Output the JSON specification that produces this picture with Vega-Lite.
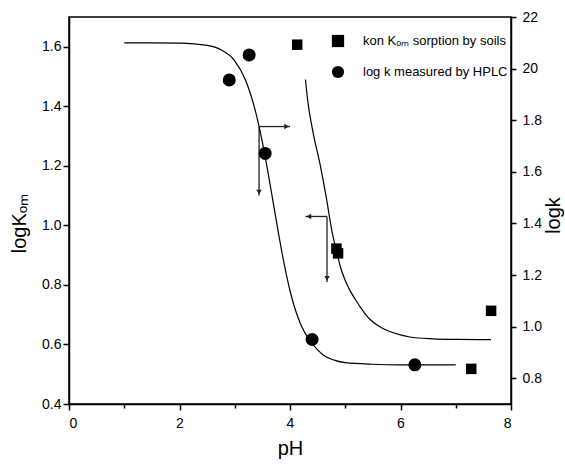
{
  "$schema": "https://vega.github.io/schema/vega-lite/v6.json",
  "width": 442,
  "height": 387,
  "autosize": "none",
  "padding": {"left": 69, "top": 17, "right": 54, "bottom": 64},
  "background": "white",
  "config": {
    "view": {"stroke": "black", "strokeWidth": 1.5},
    "axis": {
      "grid": false,
      "domainColor": "black",
      "domainWidth": 1.5,
      "tickColor": "black",
      "tickWidth": 1.5,
      "labelColor": "black",
      "labelFont": "Liberation Sans",
      "labelFontSize": 14,
      "titleFont": "Liberation Sans",
      "titleFontWeight": "normal",
      "titleColor": "black",
      "titleFontSize": 20
    },
    "legend": {
      "labelFont": "Liberation Sans",
      "labelFontSize": 13,
      "labelColor": "black",
      "labelLimit": 400
    }
  },
  "datasets": {
    "soil": [
      {"pH": 4.13, "v": 1.607, "series": "kon Kₒₘ sorption by soils"},
      {"pH": 4.84, "v": 0.922, "series": "kon Kₒₘ sorption by soils"},
      {"pH": 4.87, "v": 0.906, "series": "kon Kₒₘ sorption by soils"},
      {"pH": 7.28, "v": 0.518, "series": "kon Kₒₘ sorption by soils"},
      {"pH": 7.64, "v": 0.713, "series": "kon Kₒₘ sorption by soils"}
    ],
    "hplc": [
      {"pH": 2.90, "v": 1.956, "series": "log k measured by HPLC"},
      {"pH": 3.26, "v": 2.053, "series": "log k measured by HPLC"},
      {"pH": 3.55, "v": 1.671, "series": "log k measured by HPLC"},
      {"pH": 4.40, "v": 0.950, "series": "log k measured by HPLC"},
      {"pH": 6.26, "v": 0.852, "series": "log k measured by HPLC"}
    ],
    "curveKom": [
      {"pH": 4.28, "v": 1.49},
      {"pH": 4.32, "v": 1.42},
      {"pH": 4.42, "v": 1.31},
      {"pH": 4.55, "v": 1.20},
      {"pH": 4.66, "v": 1.09},
      {"pH": 4.76, "v": 0.98},
      {"pH": 4.86, "v": 0.90},
      {"pH": 4.91, "v": 0.862},
      {"pH": 5.00, "v": 0.815},
      {"pH": 5.09, "v": 0.780},
      {"pH": 5.18, "v": 0.752},
      {"pH": 5.27, "v": 0.726},
      {"pH": 5.36, "v": 0.703},
      {"pH": 5.45, "v": 0.684},
      {"pH": 5.64, "v": 0.658},
      {"pH": 5.76, "v": 0.647},
      {"pH": 6.00, "v": 0.632},
      {"pH": 6.17, "v": 0.625},
      {"pH": 6.59, "v": 0.619},
      {"pH": 7.00, "v": 0.617},
      {"pH": 7.64, "v": 0.616}
    ],
    "curveK": [
      {"pH": 1.0, "v": 2.100},
      {"pH": 1.5, "v": 2.100},
      {"pH": 2.0, "v": 2.099},
      {"pH": 2.5, "v": 2.090},
      {"pH": 2.75, "v": 2.073},
      {"pH": 3.0, "v": 2.030},
      {"pH": 3.2, "v": 1.953},
      {"pH": 3.4, "v": 1.813},
      {"pH": 3.5, "v": 1.715},
      {"pH": 3.6, "v": 1.600},
      {"pH": 3.7, "v": 1.476},
      {"pH": 3.8, "v": 1.352},
      {"pH": 3.9, "v": 1.237},
      {"pH": 4.0, "v": 1.139},
      {"pH": 4.2, "v": 1.005},
      {"pH": 4.4, "v": 0.935},
      {"pH": 4.6, "v": 0.890},
      {"pH": 4.8, "v": 0.870},
      {"pH": 5.0, "v": 0.860},
      {"pH": 5.5, "v": 0.854},
      {"pH": 6.0, "v": 0.852},
      {"pH": 7.0, "v": 0.852}
    ],
    "arrows": [
      {"pH": 3.44, "pH2": 3.44, "v": 1.330, "v2": 1.100},
      {"pH": 3.44, "pH2": 4.00, "v": 1.332, "v2": 1.332},
      {"pH": 4.67, "pH2": 4.28, "v": 1.030, "v2": 1.030},
      {"pH": 4.67, "pH2": 4.67, "v": 1.030, "v2": 0.810}
    ],
    "heads": [
      {"pH": 3.44, "v": 1.112, "dir": "triangle-down"},
      {"pH": 3.94, "v": 1.332, "dir": "triangle-right"},
      {"pH": 4.34, "v": 1.030, "dir": "triangle-left"},
      {"pH": 4.67, "v": 0.822, "dir": "triangle-down"}
    ]
  },
  "layer": [
    {
      "layer": [
        {
          "data": {"name": "curveKom"},
          "mark": {"type": "line", "color": "black", "strokeWidth": 1.2, "interpolate": "monotone"},
          "encoding": {
            "x": {
              "field": "pH", "type": "quantitative",
              "scale": {"domain": [0, 8], "nice": false},
              "axis": {
                "title": "pH",
                "values": [0, 1, 2, 3, 4, 5, 6, 7, 8],
                "labelExpr": "datum.value % 2 == 0 ? format(datum.value, 'd') : ''",
                "tickSize": {"condition": {"test": "datum.value % 2 == 0", "value": 6}, "value": 4},
                "labelPadding": 6,
                "titlePadding": 8
              }
            },
            "y": {
              "field": "v", "type": "quantitative",
              "scale": {"domain": [0.4, 1.7], "nice": false, "zero": false},
              "axis": {
                "orient": "left",
                "title": "logKₒₘ",
                "values": [0.4, 0.5, 0.6, 0.7, 0.8, 0.9, 1.0, 1.1, 1.2, 1.3, 1.4, 1.5, 1.6],
                "labelExpr": "round(datum.value*10) % 2 == 0 ? format(datum.value, '.1f') : ''",
                "tickSize": {"condition": {"test": "round(datum.value*10) % 2 == 0", "value": 6}, "value": 3},
                "labelPadding": 2,
                "titlePadding": 12,
                "titleY": 206
              }
            }
          }
        },
        {
          "data": {"name": "soil"},
          "mark": {"type": "point", "filled": true, "color": "black", "opacity": 1, "size": 110},
          "encoding": {
            "x": {"field": "pH", "type": "quantitative"},
            "y": {"field": "v", "type": "quantitative"},
            "shape": {
              "field": "series", "type": "nominal",
              "scale": {"domain": ["kon Kₒₘ sorption by soils", "log k measured by HPLC"], "range": ["square", "circle"]},
              "legend": {
                "title": null,
                "orient": "none",
                "legendX": 262,
                "legendY": 17,
                "padding": 0,
                "symbolSize": 150,
                "symbolFillColor": "black",
                "symbolStrokeColor": "black",
                "symbolOpacity": 1,
                "labelOffset": 18,
                "rowPadding": 11
              }
            }
          }
        },
        {
          "data": {"name": "arrows"},
          "mark": {"type": "rule", "color": "#222222", "strokeWidth": 1.3},
          "encoding": {
            "x": {"field": "pH", "type": "quantitative"},
            "x2": {"field": "pH2"},
            "y": {"field": "v", "type": "quantitative"},
            "y2": {"field": "v2"}
          }
        },
        {
          "data": {"name": "heads"},
          "mark": {"type": "point", "filled": true, "color": "#222222", "opacity": 1, "size": 30},
          "encoding": {
            "x": {"field": "pH", "type": "quantitative"},
            "y": {"field": "v", "type": "quantitative"},
            "shape": {"field": "dir", "type": "nominal", "scale": null, "legend": null}
          }
        }
      ]
    },
    {
      "layer": [
        {
          "data": {"name": "curveK"},
          "mark": {"type": "line", "color": "black", "strokeWidth": 1.2, "interpolate": "monotone"},
          "encoding": {
            "x": {"field": "pH", "type": "quantitative"},
            "y": {
              "field": "v", "type": "quantitative",
              "scale": {"domain": [0.7, 2.2], "nice": false, "zero": false},
              "axis": {
                "orient": "right",
                "title": "logk",
                "titleAngle": 270,
                "titleBaseline": "alphabetic",
                "titleX": 48,
                "titleY": 198,
                "values": [0.8, 0.9, 1.0, 1.1, 1.2, 1.3, 1.4, 1.5, 1.6, 1.7, 1.8, 1.9, 2.0, 2.1, 2.2],
                "labelExpr": "round(datum.value*10) == 22 ? '22' : round(datum.value*10) == 20 ? '20' : round(datum.value*10) % 2 == 0 ? format(datum.value, '.1f') : ''",
                "tickSize": {"condition": {"test": "round(datum.value*10) % 2 == 0", "value": 5}, "value": 3},
                "labelPadding": 6
              }
            }
          }
        },
        {
          "data": {"name": "hplc"},
          "mark": {"type": "point", "filled": true, "color": "black", "opacity": 1, "size": 170},
          "encoding": {
            "x": {"field": "pH", "type": "quantitative"},
            "y": {"field": "v", "type": "quantitative"},
            "shape": {"field": "series", "type": "nominal"}
          }
        }
      ]
    }
  ],
  "resolve": {"scale": {"y": "independent"}}
}
